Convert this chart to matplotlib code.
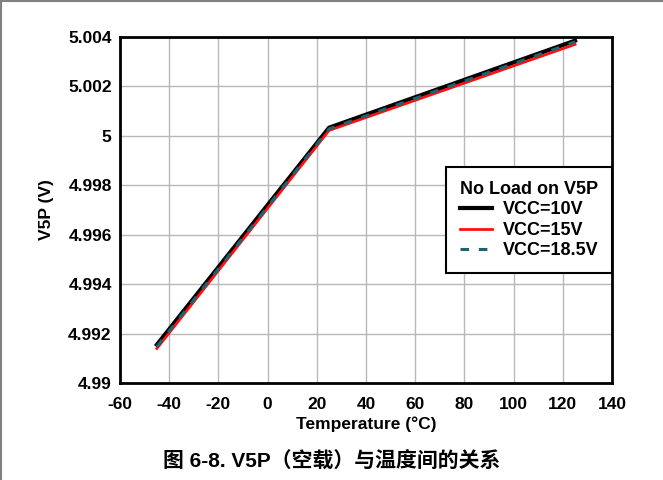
import matplotlib.pyplot as plt

plt.rcParams['font.family'] = ['Liberation Sans', 'DejaVu Sans']
plt.rcParams['axes.unicode_minus'] = False

temp = [-45, -25, 0, 25, 50, 75, 100, 125]
v_10 = [4.99155, 4.99406, 4.99720, 5.00033, 5.00121, 5.00209, 5.00297, 5.00385]
v_15 = [4.99140, 4.99392, 4.99707, 5.00022, 5.00109, 5.00196, 5.00283, 5.00370]
v_185 = [4.99147, 4.99399, 4.99713, 5.00028, 5.00116, 5.00204, 5.00292, 5.00380]

xticks = [-60, -40, -20, 0, 20, 40, 60, 80, 100, 120, 140]
yticks = [4.99, 4.992, 4.994, 4.996, 4.998, 5.0, 5.002, 5.004]
ylabels = ['4.99', '4.992', '4.994', '4.996', '4.998', '5', '5.002', '5.004']

fig = plt.figure(figsize=(6.63, 4.8), dpi=100)
ax = fig.add_axes([0.181, 0.202, 0.742, 0.721])

ax.plot(temp, v_10, color='black', lw=3, label='VCC=10V', zorder=3)
ax.plot(temp, v_15, color='#ff1010', lw=2, label='VCC=15V', zorder=4)
ax.plot(temp, v_185, color='#1d6470', lw=2.2, dashes=(2.8, 3.2), label='VCC=18.5V', zorder=5)

ax.set_xlim(-60, 140)
ax.set_ylim(4.99, 5.004)
ax.set_xticks(xticks)
ax.set_yticks(yticks)
ax.set_yticklabels(ylabels)
ax.grid(True, color='#b8b8b8', lw=1)
ax.tick_params(length=0, labelsize=12.5)
ax.tick_params(axis='x', pad=10)
ax.tick_params(axis='y', pad=6)
for lbl in ax.get_xticklabels() + ax.get_yticklabels():
    lbl.set_fontweight('bold')
for s in ax.spines.values():
    s.set_linewidth(2)

ax.set_xlabel('Temperature (°C)', fontsize=12.5, fontweight='bold', labelpad=3)
ax.set_ylabel('V5P (V)', fontsize=12.5, fontweight='bold', labelpad=10)

leg = ax.legend(title='No Load on V5P', loc='upper left', bbox_to_anchor=(0.6626, 0.624),
                frameon=True, fancybox=False, edgecolor='black', framealpha=1,
                prop={'weight': 'bold', 'size': 13}, handlelength=1.8,
                borderpad=0.75, labelspacing=0.2, handletextpad=0.6, borderaxespad=0)
leg.get_title().set_fontweight('bold')
leg.get_title().set_fontsize(13)
leg._legend_box.align = 'left'
leg.get_frame().set_linewidth(1.5)

fig.text(0.50, 0.038, '图 6-8. V5P（空载）与温度间的关系', ha='center', va='center',
         fontsize=15, fontweight='bold', family=['Liberation Sans', 'Noto Sans CJK SC'])

# thin grey frame along the top and left edges
fig.add_artist(plt.Line2D([0, 1], [0.997, 0.997], color='#808080', lw=1.5, transform=fig.transFigure))
fig.add_artist(plt.Line2D([0.002, 0.002], [0, 1], color='#808080', lw=1.5, transform=fig.transFigure))

fig.savefig('out.png', dpi=100)
